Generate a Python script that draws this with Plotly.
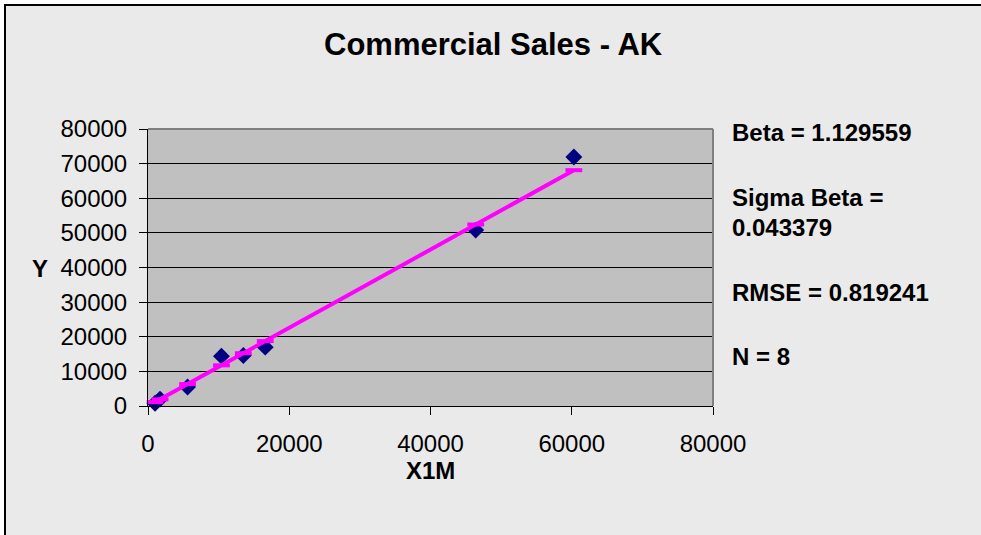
import plotly.graph_objects as go

# ---- data ----
x_values = [1000, 1700, 5600, 10400, 13500, 16600, 46400, 60300]
y_values = [800, 2000, 5500, 14400, 14600, 17000, 50800, 71900]
fitted_values = [1130, 1920, 6330, 11750, 15250, 18750, 52410, 68110]

title_text = "Commercial Sales - AK"
x_title = "X1M"
y_title = "Y"
stats_lines = ["Beta = 1.129559", "Sigma Beta =", "0.043379", "RMSE = 0.819241", "N = 8"]

# ---- layout geometry (pixels) ----
W, H = 981, 535
L, R, T, B = 148, 713, 129, 406
PW, PH = R - L, B - T


def px(xp):
    return (xp - L) / PW


def py(yp):
    return (B - yp) / PH


FONT = "Liberation Sans, Arial, sans-serif"

fig = go.Figure()
fig.add_trace(go.Scatter(
    x=x_values, y=y_values, mode="markers",
    marker=dict(symbol="diamond", size=13, color="#000080"),
    showlegend=False, cliponaxis=False))
fig.add_trace(go.Scatter(
    x=x_values, y=fitted_values, mode="lines+markers",
    line=dict(color="#FF00FF", width=4),
    marker=dict(symbol="line-ew", size=12, color="#FF00FF",
                line=dict(color="#FF00FF", width=4)),
    showlegend=False, cliponaxis=False))

shapes = [
    # white strips outside the chart frame
    dict(type="rect", xref="paper", yref="paper", x0=px(0), x1=px(4), y0=py(H), y1=py(0),
         fillcolor="white", line=dict(width=0), layer="below"),
    dict(type="rect", xref="paper", yref="paper", x0=px(0), x1=px(W), y0=py(4), y1=py(0),
         fillcolor="white", line=dict(width=0), layer="below"),
    # chart frame lines (left and top)
    dict(type="line", xref="paper", yref="paper", x0=px(5), x1=px(5), y0=py(4), y1=py(H),
         line=dict(color="black", width=2)),
    dict(type="line", xref="paper", yref="paper", x0=px(4), x1=px(W), y0=py(5), y1=py(5),
         line=dict(color="black", width=2)),
    # plot area top / right border
    dict(type="line", xref="paper", yref="paper", x0=0, x1=1, y0=1, y1=1,
         line=dict(color="#808080", width=2)),
    dict(type="line", xref="paper", yref="paper", x0=1, x1=1, y0=0, y1=1,
         line=dict(color="#808080", width=2)),
]

annotations = [
    dict(text=f"<b>{title_text}</b>", xref="paper", yref="paper", x=px(493), y=py(44),
         xanchor="center", yanchor="middle", showarrow=False,
         font=dict(family=FONT, size=31, color="black")),
    dict(text=f"<b>{y_title}</b>", xref="paper", yref="paper", x=px(40), y=py(268),
         xanchor="center", yanchor="middle", showarrow=False,
         font=dict(family=FONT, size=24, color="black")),
    dict(text=f"<b>{x_title}</b>", xref="paper", yref="paper", x=px(430), y=py(470),
         xanchor="center", yanchor="middle", showarrow=False,
         font=dict(family=FONT, size=24, color="black")),
]
stat_y = [132, 197, 227, 292, 356]
for txt, yy in zip(stats_lines, stat_y):
    annotations.append(dict(text=f"<b>{txt}</b>", xref="paper", yref="paper", x=px(730), y=py(yy),
                            xanchor="left", yanchor="middle", showarrow=False,
                            font=dict(family=FONT, size=24, color="black")))

fig.update_layout(
    width=W, height=H,
    margin=dict(l=L, r=W - R, t=T, b=H - B, pad=0),
    paper_bgcolor="#EAEAEA", plot_bgcolor="#C0C0C0",
    font=dict(family=FONT, size=24, color="black"),
    shapes=shapes, annotations=annotations,
    showlegend=False,
)
fig.update_xaxes(range=[0, 80000], dtick=20000, tick0=0, tickformat="d", showgrid=False, zeroline=False,
                 showline=True, linecolor="black", linewidth=1,
                 ticks="outside", ticklen=8, tickcolor="black", tickwidth=1,
                 ticklabelstandoff=8,
                 tickfont=dict(family=FONT, size=24, color="black"), fixedrange=True)
fig.update_yaxes(range=[0, 80000], dtick=10000, tick0=0, tickformat="d", showgrid=True, gridcolor="black",
                 gridwidth=1, zeroline=False, showline=True, linecolor="black", linewidth=1,
                 ticks="outside", ticklen=8, tickcolor="black", tickwidth=1,
                 ticklabelstandoff=7,
                 tickfont=dict(family=FONT, size=24, color="black"), fixedrange=True)

fig.write_html(
    "out.html", config={"displayModeBar": False},
    post_script=("document.body.style.margin='0';document.body.style.padding='0';"
                 "document.body.style.overflow='hidden';"
                 "document.documentElement.style.overflow='hidden';"))
